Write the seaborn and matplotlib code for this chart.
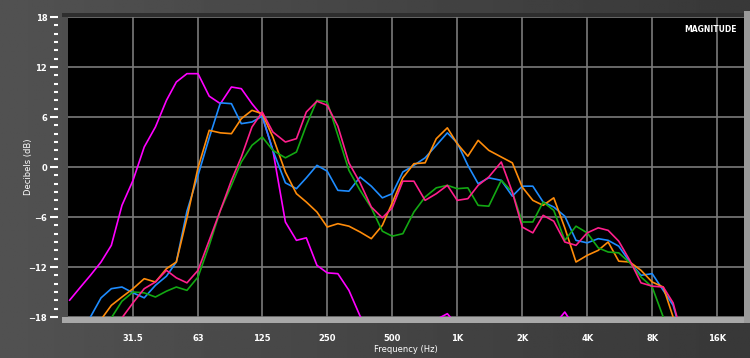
import numpy as np
import pandas as pd
import matplotlib
matplotlib.use('Agg')
from matplotlib import pyplot as plt
from matplotlib.patches import Rectangle
from matplotlib.ticker import FixedLocator, NullFormatter, MultipleLocator
import seaborn as sns

# 1/6 倍频程频率点 (Hz)
freqs = [16, 18, 20, 22.4, 25, 28, 31.5, 35.5, 40, 45, 50, 56, 63, 71, 80, 90,
         100, 112, 125, 140, 160, 180, 200, 224, 250, 280, 315, 355, 400, 450,
         500, 560, 630, 710, 800, 900, 1000, 1120, 1250, 1400, 1600, 1800, 2000,
         2240, 2500, 2800, 3150, 3550, 4000, 4500, 5000, 5600, 6300, 7100, 8000,
         9000, 10000, 11200]

# 各曲线幅度 (dB)，低于 -18 的部分被坐标轴裁掉
magenta = [-16.0, -14.4, -13.0, -11.4, -9.4, -4.6, -1.6, 2.4, 4.8, 8.0, 10.2, 11.2, 11.2, 8.5, 7.6, 9.6,
           9.4, 7.6, 6.1, 2.0, -6.6, -8.8, -8.5, -11.8, -12.7, -12.8, -14.8, -17.9, -20.0, -21.0,
           -21.0, -21.0, -21.0, -20.0, -18.3, -17.6, -19.0, -20.0, -20.0, -20.0, -20.0, -20.0, -20.0,
           -20.0, -20.0, -19.0, -17.4, -19.5, -22.0, -22.0, -22.0, -22.0, -22.0, -22.0, -22.0,
           -22.0, -22.0, -22.0]
blue = [-22.0, -20.0, -18.0, -15.7, -14.6, -14.4, -15.1, -15.7, -14.2, -13.1, -11.4, -5.3, -1.0, 3.5, 7.7, 7.6,
        5.2, 5.4, 6.1, 2.0, -1.9, -2.6, -1.3, 0.2, -0.5, -2.8, -2.9, -1.2, -2.3, -3.7,
        -3.2, -0.6, 0.2, 1.1, 2.6, 4.1, 2.9, 0.2, -2.0, -1.3, -1.6, -3.5, -2.3,
        -2.3, -4.2, -4.8, -5.9, -8.8, -9.1, -8.6, -8.8, -9.5, -11.4, -13.0, -12.8,
        -14.8, -16.6, -21.0]
orange = [-23.0, -22.0, -21.0, -18.3, -16.6, -15.6, -14.6, -13.4, -13.8, -12.2, -11.4, -6.1, -0.1, 4.4, 4.1, 4.0,
          5.8, 6.8, 6.4, 3.6, -0.6, -3.2, -4.2, -5.4, -7.2, -6.8, -7.1, -7.8, -8.6, -7.0,
          -4.3, -1.3, 0.4, 0.5, 3.4, 4.7, 2.8, 1.3, 3.2, 2.0, 1.2, 0.5, -2.4,
          -4.0, -4.6, -3.7, -7.3, -11.4, -10.6, -10.0, -9.0, -11.3, -11.4, -12.4, -13.8,
          -14.4, -18.0, -21.0]
green = [-22.0, -21.0, -20.0, -19.5, -18.1, -16.1, -15.0, -15.1, -15.6, -14.9, -14.4, -14.8, -13.2, -9.4, -5.2, -2.2,
         0.6, 2.6, 3.6, 2.0, 1.1, 1.8, 5.0, 8.0, 7.8, 3.8, -0.4, -2.8, -4.9, -7.7,
         -8.3, -8.0, -5.4, -3.6, -2.5, -2.2, -2.6, -2.5, -4.6, -4.7, -1.6, -3.0, -6.6,
         -6.6, -4.2, -5.2, -8.8, -7.1, -7.9, -9.7, -10.2, -10.3, -11.5, -13.2, -14.4,
         -18.0, -21.0, -22.0]
pink = [-24.0, -23.0, -22.0, -21.0, -20.0, -18.1, -16.3, -14.6, -13.8, -12.4, -13.3, -13.9, -12.4, -8.8, -5.2, -1.6,
        1.2, 4.8, 6.6, 4.2, 3.0, 3.4, 6.6, 7.9, 7.4, 4.9, 0.5, -1.9, -4.8, -6.1,
        -4.9, -1.7, -1.7, -4.0, -3.2, -2.2, -4.0, -3.8, -2.2, -1.2, 0.6, -3.0, -7.2,
        -7.9, -5.8, -6.5, -9.0, -9.4, -7.9, -7.3, -7.6, -8.9, -11.2, -13.9, -14.3,
        -14.4, -16.3, -21.0]

# 刻度
x_ticks = [31.5, 63, 125, 250, 500, 1000, 2000, 4000, 8000, 16000]
x_labels = ['31.5', '63', '125', '250', '500', '1K', '2K', '4K', '8K', '16K']
y_ticks = [-18, -12, -6, 0, 6, 12, 18]

series = {'magenta': magenta, 'blue': blue, 'orange': orange, 'green': green, 'pink': pink}
palette = {'magenta': '#ff00ff', 'blue': '#1e8cff', 'orange': '#ff8c0a',
           'green': '#13a813', 'pink': '#ff1f8c'}

df = pd.concat([pd.DataFrame({'freq': freqs, 'db': v, 'curve': k}) for k, v in series.items()],
               ignore_index=True)

sns.set_style('dark')
plt.rcParams['font.family'] = ['DejaVu Sans']

fig = plt.figure(figsize=(7.5, 3.58), dpi=100)
fig.patch.set_facecolor('#3a3a3a')

# 背景渐变
bg = fig.add_axes([0, 0, 1, 1], zorder=-10)
gx = np.linspace(0, 1, 200)
grad = 0.32 - 0.10 * gx[None, :] + 0.0 * gx[:, None]
bg.imshow(grad, cmap='gray', vmin=0, vmax=1, aspect='auto', extent=[0, 1, 0, 1])
bg.axis('off')

# 边框
fig.patches.append(Rectangle((0.083, 0.098), 0.91, 0.017, transform=fig.transFigure,
                             facecolor='#a8a8a8', edgecolor='none', zorder=1))
fig.patches.append(Rectangle((0.083, 0.115), 0.008, 0.845, transform=fig.transFigure,
                             facecolor='#4e4e4e', edgecolor='none', zorder=1))
fig.patches.append(Rectangle((0.083, 0.9525), 0.91, 0.012, transform=fig.transFigure,
                             facecolor='#2e2e2e', edgecolor='none', zorder=1))
fig.patches.append(Rectangle((0.992, 0.098), 0.008, 0.87, transform=fig.transFigure,
                             facecolor='#9a9a9a', edgecolor='none', zorder=1))

ax = fig.add_axes([0.0907, 0.1145, 0.9013, 0.838])
ax.set_facecolor('black')

sns.lineplot(data=df, x='freq', y='db', hue='curve', palette=palette,
             estimator=None, sort=False, linewidth=1.2, legend=False, ax=ax)

ax.set_xscale('log')
ax.set_xlim(15.75, 21300)
ax.set_ylim(-18, 18)

ax.xaxis.set_major_locator(FixedLocator(x_ticks))
ax.xaxis.set_minor_locator(FixedLocator([]))
ax.set_xticks(x_ticks)
ax.set_xticklabels(x_labels)
ax.set_yticks(y_ticks)
ax.yaxis.set_minor_locator(MultipleLocator(1))
ax.yaxis.set_minor_formatter(NullFormatter())

ax.grid(True, which='major', color='#7a7a7a', linewidth=1.2)
for s in ax.spines.values():
    s.set_visible(False)
ax.spines['left'].set_position(('outward', 7))

ax.tick_params(axis='x', length=0, pad=12, colors='white', labelsize=6)
ax.tick_params(axis='y', which='major', left=True, length=6, width=1.5,
               colors='white', labelsize=6, pad=2)
ax.tick_params(axis='y', which='minor', left=True, length=3, width=1.5, color='white')
for lab in ax.get_xticklabels() + ax.get_yticklabels():
    lab.set_fontweight('bold')

ax.set_xlabel('Frequency (Hz)', color='white', fontsize=6, labelpad=2)
ax.set_ylabel('Decibels (dB)', color='white', fontsize=6)
ax.yaxis.set_label_coords(-0.052, 0.5)
ax.text(0.99, 0.975, 'MAGNITUDE', transform=ax.transAxes, ha='right', va='top',
        color='white', fontsize=5.5, fontweight='bold')

fig.savefig('out.png', dpi=100, facecolor=fig.get_facecolor())
